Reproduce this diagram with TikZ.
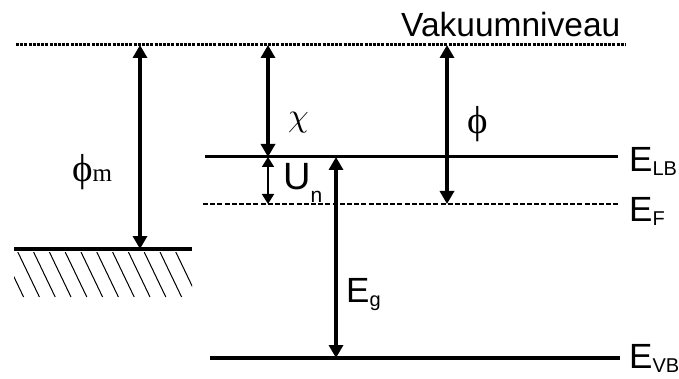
\documentclass[tikz,border=0pt]{standalone}
\usepackage{fontspec}
\setmainfont{Liberation Sans}
\newfontfamily\greekfont{Liberation Serif}
\usetikzlibrary{arrows.meta,positioning}
\tikzset{
  vaclevel/.style={line width=3pt, dash pattern=on 3pt off 1.2pt},
  bandlevel/.style={line width=3pt},
  fermilevel/.style={line width=2.6pt, dash pattern=on 5pt off 2.2pt},
  energyarrow/.style={line width=3.4pt,
    {Triangle[width=14pt,length=13pt]}-{Triangle[width=14pt,length=13pt]}},
  smallarrow/.style={line width=1.8pt,
    {Triangle[width=12pt,length=10pt]}-{Triangle[width=12pt,length=10pt]}},
  levellabel/.style={anchor=base west, inner sep=0pt, font=\fontsize{35}{38}\selectfont},
  greeklabel/.style={anchor=base west, inner sep=0pt, font=\greekfont\fontsize{39}{40}\selectfont},
  hatchline/.style={line width=1pt}
}
\newcommand{\lvlsub}[1]{\raisebox{-4pt}{\fontsize{20}{22}\selectfont #1}}

\begin{document}
\begin{tikzpicture}[x=1pt,y=-1pt]
  \useasboundingbox (0,0) rectangle (679,379);

  % levels
  \coordinate (vac-l) at (16,45);   \coordinate (vac-r) at (626,45);
  \coordinate (lb-l)  at (205,157); \coordinate (lb-r)  at (618,157);
  \coordinate (ef-l)  at (203,204); \coordinate (ef-r)  at (620,204);
  \coordinate (vb-l)  at (210,358); \coordinate (vb-r)  at (620,358);
  \coordinate (met-l) at (14,249);  \coordinate (met-r) at (192,249);

  \draw[vaclevel]   (vac-l) -- (vac-r);
  \draw[bandlevel]  (lb-l) -- (lb-r);
  \draw[fermilevel] (ef-l) -- (ef-r);
  \draw[bandlevel, line width=3.6pt] (vb-l) -- (vb-r);
  \draw[bandlevel, line width=3.6pt] (met-l) -- (met-r);

  % metal hatching
  \begin{scope}
    \clip (14,252) rectangle (192,297);
    \foreach \x in {2,17.8,...,190}
      \draw[hatchline] (\x,252) -- ++(21.6,45);
  \end{scope}

  % arrow ends
  \coordinate (phim-t) at (140,45);  \coordinate (phim-b) at (140,249);
  \coordinate (chi-t)  at (268,45);  \coordinate (chi-b)  at (268,157);
  \coordinate (un-t)   at (268,157); \coordinate (un-b)   at (268,204);
  \coordinate (phi-t)  at (447,45);  \coordinate (phi-b)  at (447,204);
  \coordinate (eg-t)   at (336,157); \coordinate (eg-b)   at (336,358);

  \draw[energyarrow] (phim-t) -- (phim-b);
  \draw[energyarrow] (chi-t) -- (chi-b);
  \draw[smallarrow]  (un-t) -- (un-b);
  \draw[energyarrow] (phi-t) -- (phi-b);
  \draw[energyarrow] (eg-t) -- (eg-b);

  % labels
  \node (vac) [anchor=base west, inner sep=0pt, font=\fontsize{33.5}{36}\selectfont]
    at (401,37) {Vakuumniveau};
  \node (phim) [greeklabel] at (72,182) {ϕ{\fontsize{25}{26}\selectfont m}};
  \node (chi)  [anchor=base west, inner sep=0pt] at (288,127) {\scalebox{3.3}{$\chi$}};
  \node (phi)  [greeklabel] at (467,134) {ϕ};
  \node (un) [anchor=base west, inner sep=0pt, font=\fontsize{38}{40}\selectfont]
    at (283,190) {U\raisebox{-13pt}{\fontsize{21}{22}\selectfont n}};
  \node (elb) [levellabel] at (629,172) {E\lvlsub{LB}};
  \node (ef)  [levellabel] at (629,222) {E\lvlsub{F}};
  \node (evb) [levellabel] at (629,368) {E\lvlsub{VB}};
  \node (eg)  [levellabel] at (346,302) {E\lvlsub{g}};
\end{tikzpicture}
\end{document}
